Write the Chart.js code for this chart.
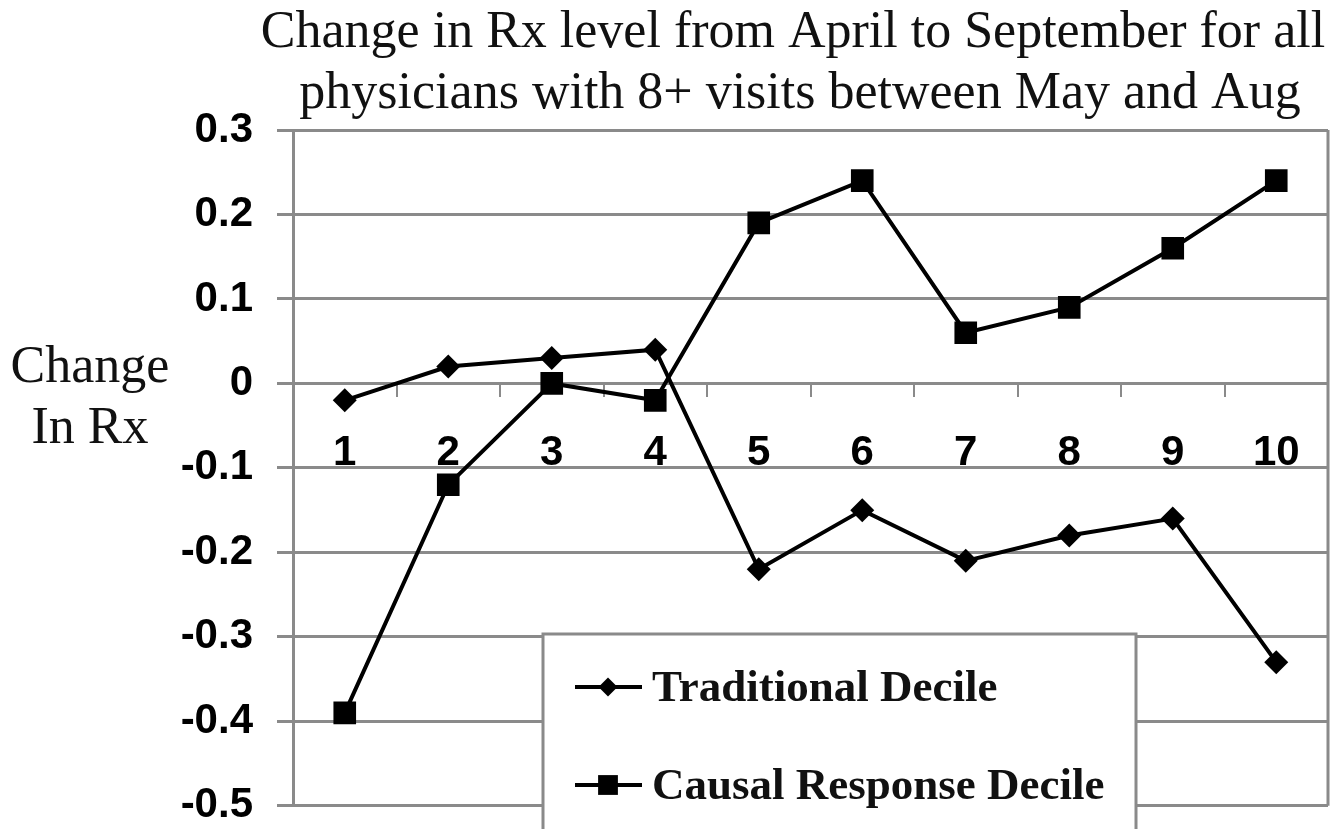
<!DOCTYPE html>
<html>
<head>
<meta charset="utf-8">
<script src="https://cdn.jsdelivr.net/npm/chart.js@4.4.1/dist/chart.umd.min.js"></script>
<style>
  html, body { margin: 0; padding: 0; background: #fff; overflow: hidden; }
  #wrap { width: 1344px; height: 855px; position: relative; }
</style>
</head>
<body>
<div id="wrap"><canvas id="chart"></canvas></div>
<script>
const deciles = ["1", "2", "3", "4", "5", "6", "7", "8", "9", "10"];
const traditionalDecile = [-0.02, 0.02, 0.03, 0.04, -0.22, -0.15, -0.21, -0.18, -0.16, -0.33];
const causalResponseDecile = [-0.39, -0.12, 0.0, -0.02, 0.19, 0.24, 0.06, 0.09, 0.16, 0.24];
const yTickValues = [0.3, 0.2, 0.1, 0, -0.1, -0.2, -0.3, -0.4, -0.5];
const seriesNames = ["Traditional Decile", "Causal Response Decile"];
const titleLines = [
  "Change in Rx level from April to September for all",
  "physicians with 8+ visits between May and Aug"
];
const yTitleLines = ["Change", "In Rx"];

const GRID = "#8a8a8a";
const SERIF = "'Liberation Serif', 'Times New Roman', serif";
const SANS = "'Liberation Sans', Arial, sans-serif";

// title, horizontal y title, right frame edge and the boxed legend
const decorations = {
  id: "decorations",
  afterDraw(chart) {
    const { ctx, chartArea } = chart;
    ctx.save();

    ctx.strokeStyle = GRID;
    ctx.lineWidth = 3;
    ctx.beginPath();
    ctx.moveTo(chartArea.right, chartArea.top);
    ctx.lineTo(chartArea.right, chartArea.bottom);
    ctx.stroke();

    ctx.fillStyle = "#111";
    ctx.textAlign = "center";
    ctx.textBaseline = "alphabetic";
    ctx.font = "52px " + SERIF;
    ctx.fillText(titleLines[0], 793, 47);
    ctx.fillText(titleLines[1], 800, 108);
    ctx.fillText(yTitleLines[0], 90, 382);
    ctx.fillText(yTitleLines[1], 90, 443);

    // legend box
    ctx.fillStyle = "#fff";
    ctx.fillRect(543, 634, 593, 240);
    ctx.strokeStyle = GRID;
    ctx.lineWidth = 3;
    ctx.strokeRect(543, 634, 593, 240);

    chart.data.datasets.forEach((ds, i) => {
      const y = 687 + i * 98;
      ctx.strokeStyle = "#000";
      ctx.fillStyle = "#000";
      ctx.lineWidth = 4;
      ctx.beginPath();
      ctx.moveTo(575, y);
      ctx.lineTo(642, y);
      ctx.stroke();
      Chart.helpers.drawPoint(ctx, {
        pointStyle: ds.pointStyle,
        radius: ds.pointStyle === "rect" ? 14 : 9.5,
        rotation: 0,
        borderWidth: 0
      }, 608, y);
      ctx.fillStyle = "#111";
      ctx.textAlign = "left";
      ctx.textBaseline = "middle";
      ctx.font = "bold 45px " + SERIF;
      ctx.fillText(ds.label, 652, y + 2);
    });
    ctx.restore();
  }
};

new Chart(document.getElementById("chart"), {
  type: "line",
  data: {
    labels: deciles,
    datasets: [
      {
        label: seriesNames[0],
        data: traditionalDecile,
        borderColor: "#000",
        backgroundColor: "#000",
        borderWidth: 4,
        pointStyle: "rectRot",
        pointRadius: 12,
        pointBackgroundColor: "#000",
        pointBorderWidth: 0,
        tension: 0
      },
      {
        label: seriesNames[1],
        data: causalResponseDecile,
        borderColor: "#000",
        backgroundColor: "#000",
        borderWidth: 4,
        pointStyle: "rect",
        pointRadius: 16,
        pointBackgroundColor: "#000",
        pointBorderWidth: 0,
        tension: 0
      }
    ]
  },
  options: {
    responsive: true,
    maintainAspectRatio: false,
    animation: false,
    devicePixelRatio: 1,
    layout: { padding: { top: 130, right: 16, bottom: 0, left: 0 } },
    plugins: { legend: { display: false }, tooltip: { enabled: false }, title: { display: false } },
    scales: {
      x: {
        position: { y: 0 },
        offset: true,
        grid: { drawOnChartArea: false, offset: true, tickLength: 14, color: GRID, lineWidth: 2 },
        border: { display: false },
        ticks: {
          color: "#000",
          font: { family: SANS, size: 42, weight: "bold" },
          padding: 31,
          maxRotation: 0,
          autoSkip: false
        }
      },
      y: {
        min: -0.5,
        max: 0.3,
        afterFit(scale) { scale.width = 293; },
        afterBuildTicks(scale) { scale.ticks = yTickValues.map(v => ({ value: v })); },
        grid: { color: GRID, lineWidth: 3, tickLength: 16 },
        border: { display: true, color: GRID, width: 3 },
        ticks: {
          color: "#000",
          font: { family: SANS, size: 42, weight: "bold" },
          padding: 24,
          autoSkip: false,
          callback: v => String(Math.round(v * 10) / 10)
        }
      }
    }
  },
  plugins: [decorations]
});
</script>
</body>
</html>
